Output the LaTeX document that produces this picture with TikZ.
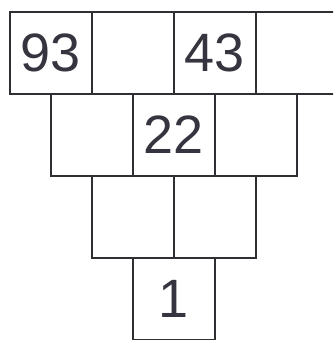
\documentclass[tikz,border=0pt]{standalone}
\usepackage{fontspec}
\setmainfont{Liberation Sans}
\definecolor{ink}{HTML}{36353F}
\definecolor{edge}{HTML}{2E2E33}
\begin{document}
\begin{tikzpicture}[x=1pt,y=-1pt,
  cell/.style={draw=edge, line width=1.9pt, rectangle, minimum width=82pt, minimum height=82pt, inner sep=0pt, outer sep=0pt, text=ink, font=\fontsize{54}{54}\selectfont}]
\useasboundingbox (0,0) rectangle (333,340);
\clip (0,0) rectangle (333,340);
% row 1
\node[cell] (a1) at (51,53) {93};
\node[cell] (a2) at (133,53) {};
\node[cell] (a3) at (215,53) {43};
\node[cell] (a4) at (297,53) {};
% row 2
\node[cell] (b1) at (92,135) {};
\node[cell] (b2) at (174,135) {22};
\node[cell] (b3) at (256,135) {};
% row 3
\node[cell] (c1) at (133,217) {};
\node[cell] (c2) at (215,217) {};
% row 4
\node[cell] (d1) at (174,299) {\raisebox{-4pt}{1}};
\end{tikzpicture}
\end{document}
